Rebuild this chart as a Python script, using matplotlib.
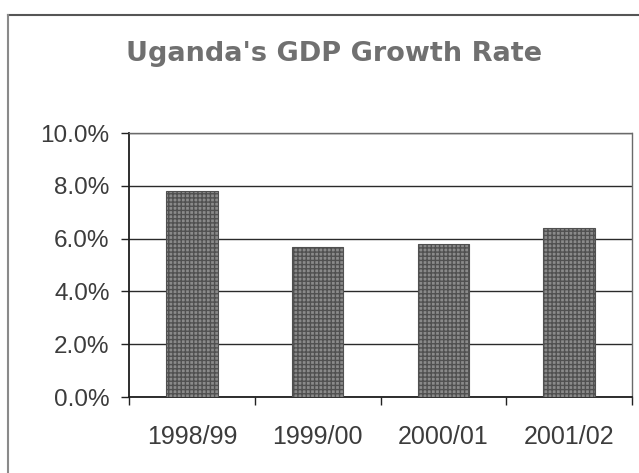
import matplotlib.pyplot as plt
from matplotlib.lines import Line2D
from matplotlib.ticker import FuncFormatter

# GDP growth by fiscal year (percent)
years = ['1998/99', '1999/00', '2000/01', '2001/02']
growth = [7.8, 5.7, 5.8, 6.4]
yticks = [0, 2, 4, 6, 8, 10]

plt.rcParams['font.family'] = ['Liberation Sans', 'DejaVu Sans']
plt.rcParams['hatch.color'] = '#6a6a6a'

W, H = 639, 473
fig = plt.figure(figsize=(W / 100, H / 100), dpi=100)
ax = fig.add_axes([129 / W, 1 - 397 / H, (632 - 129) / W, (397 - 133) / H])

x = list(range(len(years)))
ax.bar(x, growth, width=0.41, color='#8a8a8a', edgecolor='#505050',
       linewidth=0.8, hatch='++++', zorder=3)

ax.set_xlim(-0.5, len(years) - 0.5)
ax.set_ylim(0, 10)
ax.set_yticks(yticks)
ax.yaxis.set_major_formatter(FuncFormatter(lambda v, p: f'{v:.1f}%'))
ax.grid(axis='y', color='#2a2a2a', linewidth=1.0, zorder=1)

# category ticks sit on the boundaries between bars
ax.set_xticks(x)
ax.set_xticklabels(years)
ax.set_xticks([i - 0.5 for i in range(len(years) + 1)], minor=True)
ax.tick_params(axis='x', which='major', length=0, pad=20,
               labelsize=18, labelcolor='#3c3c3c')
ax.tick_params(axis='x', which='minor', length=6, width=1.0, color='#222222',
               direction='out')
ax.tick_params(axis='y', length=6, width=1.0, color='#222222', pad=8,
               labelsize=17.5, labelcolor='#3c3c3c')

for side in ['left', 'bottom']:
    ax.spines[side].set_color('#1e1e1e')
    ax.spines[side].set_linewidth(1.3)
for side in ['top', 'right']:
    ax.spines[side].set_color('#6a6a6a')
    ax.spines[side].set_linewidth(1.0)
    ax.spines[side].set_linestyle((0, (2, 1)))

fig.text(334 / W, 1 - 61 / H, "Uganda's GDP Growth Rate", ha='center',
         va='baseline', fontsize=19.5, fontweight='bold', color='#707070',
         family=['DejaVu Sans'])

# outer chart frame (top and left edges)
fig.add_artist(Line2D([8 / W, 1.0], [1 - 15 / H, 1 - 15 / H],
                      transform=fig.transFigure, color='#555555', linewidth=1.5))
fig.add_artist(Line2D([8 / W, 8 / W], [0.0, 1 - 15 / H],
                      transform=fig.transFigure, color='#8a8a8a', linewidth=1.5))

fig.savefig('out.png', dpi=100)
